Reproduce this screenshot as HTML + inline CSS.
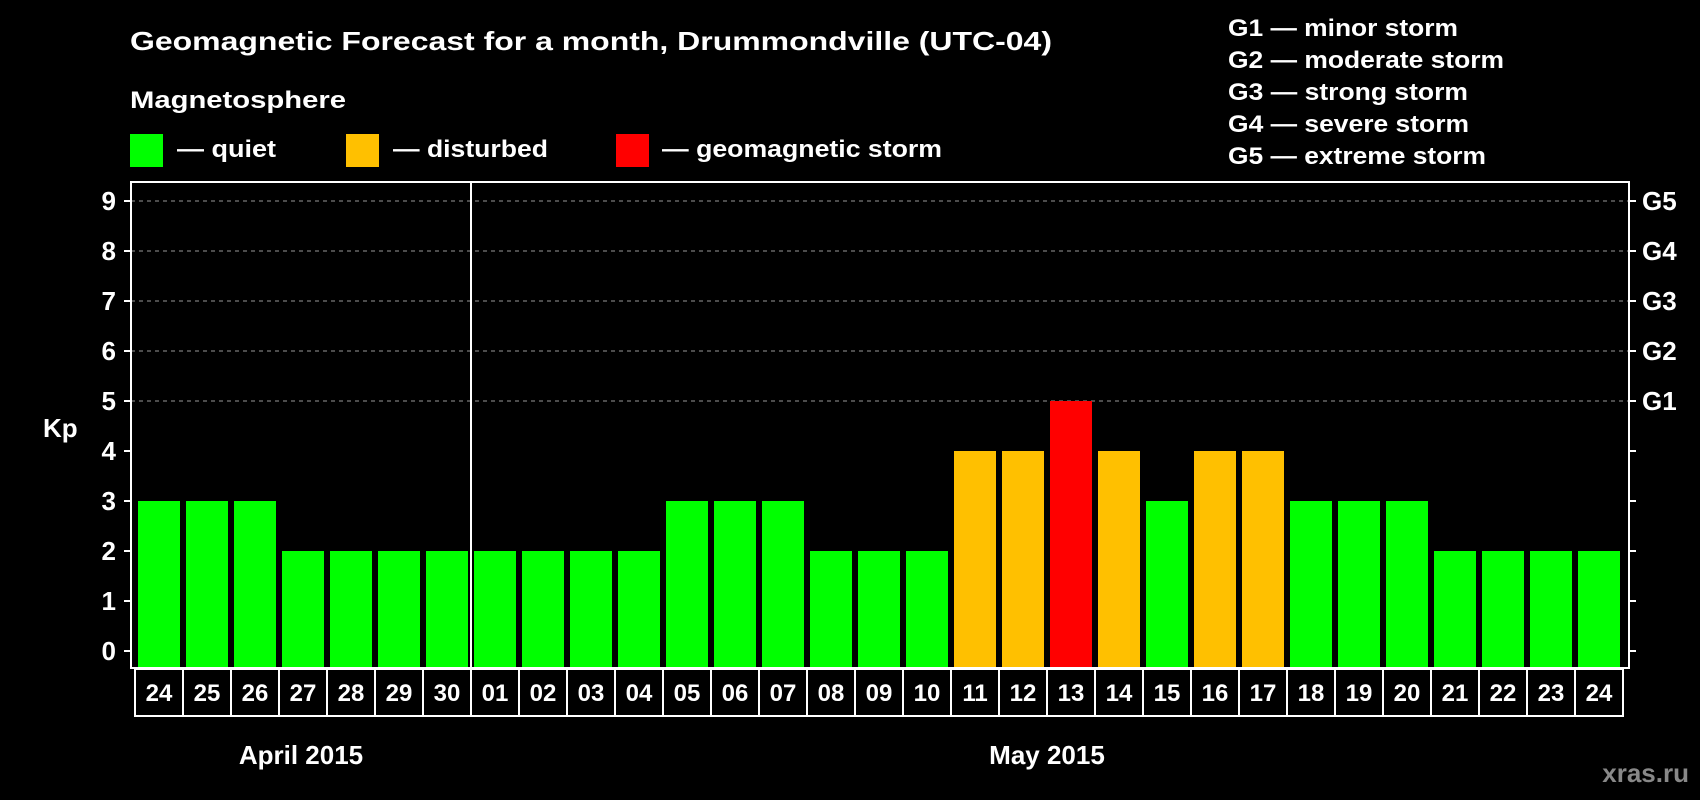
<!DOCTYPE html>
<html><head><meta charset="utf-8"><style>
html,body{margin:0;padding:0;background:#000;}
svg{display:block;font-family:"Liberation Sans",Arial,sans-serif;font-weight:bold;}
</style></head><body>
<svg id="chart" width="1700" height="800" viewBox="0 0 1700 800">
<rect x="0" y="0" width="1700" height="800" fill="#000"/>
<text x="130" y="50" font-size="26" fill="#fff" textLength="922" lengthAdjust="spacingAndGlyphs">Geomagnetic Forecast for a month, Drummondville (UTC-04)</text>
<text x="130" y="108" font-size="24" fill="#fff" textLength="216" lengthAdjust="spacingAndGlyphs">Magnetosphere</text>
<g><rect x="130" y="134" width="33" height="33" fill="#00ff00"/><text x="177" y="157" font-size="24" fill="#fff" textLength="99" lengthAdjust="spacingAndGlyphs">— quiet</text></g>
<g><rect x="346" y="134" width="33" height="33" fill="#ffc000"/><text x="393" y="157" font-size="24" fill="#fff" textLength="155" lengthAdjust="spacingAndGlyphs">— disturbed</text></g>
<g><rect x="616" y="134" width="33" height="33" fill="#ff0000"/><text x="662" y="157" font-size="24" fill="#fff" textLength="280" lengthAdjust="spacingAndGlyphs">— geomagnetic storm</text></g>
<g font-size="24" fill="#fff">
<text x="1228" y="36" textLength="230" lengthAdjust="spacingAndGlyphs">G1 — minor storm</text>
<text x="1228" y="68" textLength="276" lengthAdjust="spacingAndGlyphs">G2 — moderate storm</text>
<text x="1228" y="100" textLength="240" lengthAdjust="spacingAndGlyphs">G3 — strong storm</text>
<text x="1228" y="132" textLength="241" lengthAdjust="spacingAndGlyphs">G4 — severe storm</text>
<text x="1228" y="164" textLength="258" lengthAdjust="spacingAndGlyphs">G5 — extreme storm</text>
</g>
<g id="grid"></g>
<g id="bars"></g>
<rect x="131" y="182" width="1498" height="486" fill="none" stroke="#fff" stroke-width="2"/>
<line x1="471" y1="182" x2="471" y2="668" stroke="#fff" stroke-width="2"/>
<g id="axes"></g>
<g id="xlabels"></g>
<text x="43" y="437" font-size="26" fill="#fff">Kp</text>
<text x="301" y="764" font-size="26" fill="#fff" text-anchor="middle">April 2015</text>
<text x="1047" y="764" font-size="26" fill="#fff" text-anchor="middle">May 2015</text>
<text x="1689" y="782" font-size="26" fill="#888" text-anchor="end">xras.ru</text>
</svg>
<script>
const days = ["24","25","26","27","28","29","30","01","02","03","04","05","06","07","08","09","10","11","12","13","14","15","16","17","18","19","20","21","22","23","24"];
const kpValues = [3,3,3,2,2,2,2,2,2,2,2,3,3,3,2,2,2,4,4,5,4,3,4,4,3,3,3,2,2,2,2];
const yTicks = [0,1,2,3,4,5,6,7,8,9];
const gLabels = ["","","","","","G1","G2","G3","G4","G5"];
const NS = "http://www.w3.org/2000/svg";
const x0 = 135, slot = 48, barW = 42, plotBottom = 667;
function yScale(v){ return 651 - v*50; }
function xScale(i){ return x0 + i*slot; }
function mk(tag, attrs){ const e=document.createElementNS(NS,tag); for(const k in attrs) e.setAttribute(k,attrs[k]); return e; }
const grid=document.getElementById('grid'), axes=document.getElementById('axes'), bars=document.getElementById('bars'), xl=document.getElementById('xlabels');
yTicks.forEach((t,i)=>{
  const y=yScale(t);
  if(t>=5){
    const g=mk('line',{x1:131,x2:1629,y1:y,y2:y,stroke:'#999','stroke-width':1,'stroke-dasharray':'4,4'});
    
    
    grid.appendChild(g);
  }
  const tl=mk('line',{x1:124,x2:131,y1:y,y2:y,stroke:'#fff','stroke-width':2});
  
  
  axes.appendChild(tl);
  const tr=mk('line',{x1:1629,x2:1636,y1:y,y2:y,stroke:'#fff','stroke-width':2});
  
  
  axes.appendChild(tr);
  const lb=mk('text',{x:116,y:y+9,'font-size':26,fill:'#fff','text-anchor':'end'});
  lb.textContent=t;
  
  
  axes.appendChild(lb);
  if(gLabels[i]){
    const gl=mk('text',{x:1642,y:y+9,'font-size':26,fill:'#fff'});
    gl.textContent=gLabels[i];
    
    
    axes.appendChild(gl);
  }
});
kpValues.forEach((v,i)=>{
  const col = v>=5?'#ff0000':(v>=4?'#ffc000':'#00ff00');
  const x=xScale(i)+(slot-barW)/2, y=yScale(v);
  const r=mk('rect',{x:x,y:y,width:barW,height:plotBottom-y,fill:col});
  
  
  bars.appendChild(r);
});
days.forEach((d,i)=>{
  const x=xScale(i);
  const b=mk('rect',{x:x,y:669,width:slot,height:47,fill:'none',stroke:'#fff','stroke-width':2});
  
  
  xl.appendChild(b);
  const t=mk('text',{x:x+slot/2,y:701,'font-size':24,fill:'#fff','text-anchor':'middle'});
  t.textContent=d;
  
  
  xl.appendChild(t);
});
</script>
</body></html>
